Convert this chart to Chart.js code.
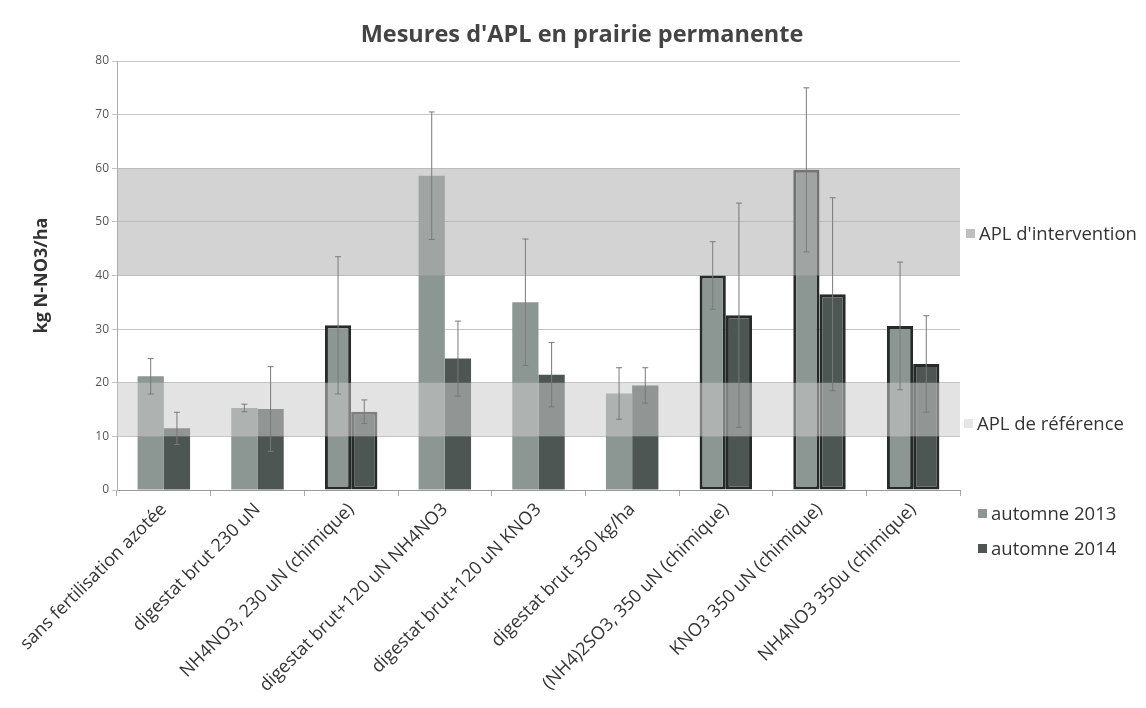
<!DOCTYPE html>
<html lang="fr">
    <head>
        <meta charset="UTF-8" />
        <title>Mesures d'APL en prairie permanente</title>
        <script src="https://cdn.jsdelivr.net/npm/chart.js@4.4.1/dist/chart.umd.min.js"></script>
        <style>
            body { margin: 0; background: #fff; font-family: "Open Sans", sans-serif; }
            #wrap { position: relative; width: 1146px; height: 708px; }
            #title { position: absolute; left: 582px; top: 17px; transform: translateX(-50%); font-size: 23.5px; font-weight: bold; line-height: 32px; color: #444; white-space: nowrap; }
            .leg { position: absolute; font-size: 18.5px; line-height: 22px; color: #333; white-space: nowrap; }
            .leg span { display: inline-block; width: 9px; height: 9px; margin-right: 4px; vertical-align: 2px; }
        </style>
    </head>
    <body>
        <div id="wrap">
            <canvas id="chart" width="1146" height="708"></canvas>
            <div id="title">Mesures d'APL en prairie permanente</div>
            <div class="leg" style="left: 966px; top: 222px"><span style="background: #bfbfbf"></span>APL d'intervention</div>
            <div class="leg" style="left: 964px; top: 412px"><span style="background: #e6e6e6"></span>APL de référence</div>
            <div class="leg" style="left: 978px; top: 502px"><span style="background: #8c9793"></span>automne 2013</div>
            <div class="leg" style="left: 978px; top: 537px"><span style="background: #4d5653"></span>automne 2014</div>
        </div>
        <script>
            const categories = [
                "sans fertilisation azotée",
                "digestat brut 230 uN",
                "NH4NO3, 230 uN (chimique)",
                "digestat brut+120 uN NH4NO3",
                "digestat brut+120 uN KNO3",
                "digestat brut 350 kg/ha",
                "(NH4)2SO3, 350 uN (chimique)",
                "KNO3 350 uN (chimique)",
                "NH4NO3 350u (chimique)",
            ];
            const apl2013 = [21.2, 15.3, 30.7, 58.6, 35.0, 18.0, 40.0, 59.7, 30.6];
            const apl2014 = [11.5, 15.1, 14.6, 24.5, 21.5, 19.5, 32.6, 36.5, 23.5];
            const err2013 = [3.3, 0.7, 12.8, 11.9, 11.8, 4.8, 6.3, 15.3, 11.9];
            const err2014 = [3.0, 7.9, 2.2, 7.0, 6.0, 3.3, 20.9, 18.0, 9.0];
            const bandReference = [10, 20];
            const bandIntervention = [40, 60];
            const yTicks = [0, 10, 20, 30, 40, 50, 60, 70, 80];

            const errors = [err2013, err2014];
            const bands = [
                { range: bandIntervention, color: "rgba(176, 176, 176, 0.56)" },
                { range: bandReference, color: "rgba(203, 203, 203, 0.54)" },
            ];

            // APL bands (semi transparent, over the bars) then error bars on top
            const overlays = {
                id: "overlays",
                afterDatasetsDraw(chart) {
                    const ctx = chart.ctx;
                    const area = chart.chartArea;
                    const y = chart.scales.y;
                    ctx.save();
                    for (const b of bands) {
                        const top = y.getPixelForValue(b.range[1]);
                        const bottom = y.getPixelForValue(b.range[0]);
                        ctx.fillStyle = b.color;
                        ctx.fillRect(area.left, top, area.right - area.left, bottom - top);
                    }
                    ctx.strokeStyle = "#7a7a7a";
                    ctx.lineWidth = 1;
                    errors.forEach((err, d) => {
                        const meta = chart.getDatasetMeta(d);
                        meta.data.forEach((bar, i) => {
                            const v = chart.data.datasets[d].data[i];
                            const top = y.getPixelForValue(v + err[i]);
                            const bottom = y.getPixelForValue(v - err[i]);
                            ctx.beginPath();
                            ctx.moveTo(bar.x, top);
                            ctx.lineTo(bar.x, bottom);
                            ctx.moveTo(bar.x - 3, top);
                            ctx.lineTo(bar.x + 3, top);
                            ctx.moveTo(bar.x - 3, bottom);
                            ctx.lineTo(bar.x + 3, bottom);
                            ctx.stroke();
                        });
                    });
                    ctx.restore();
                },
            };

            // the "chimique" treatments are outlined
            const chimique = (ctx) => (categories[ctx.dataIndex].includes("chimique") ? 3 : 0);

            new Chart("chart", {
                type: "bar",
                data: {
                    labels: categories,
                    datasets: [
                        {
                            label: "automne 2013",
                            data: apl2013,
                            backgroundColor: "#8c9793",
                            borderColor: "#262b2a",
                            borderWidth: chimique,
                            borderSkipped: false,
                        },
                        {
                            label: "automne 2014",
                            data: apl2014,
                            backgroundColor: "#4d5653",
                            borderColor: "#262b2a",
                            borderWidth: chimique,
                            borderSkipped: false,
                        },
                    ],
                },
                options: {
                    responsive: false,
                    animation: false,
                    layout: { padding: { left: 0, right: 186, top: 61, bottom: 0 } },
                    datasets: {
                        bar: { categoryPercentage: 0.56, barPercentage: 1 },
                    },
                    plugins: {
                        legend: { display: false },
                        tooltip: { enabled: false },
                    },
                    scales: {
                        x: {
                            grid: { display: true, drawOnChartArea: false, offset: true, tickLength: 6, color: "#aaa" },
                            border: { color: "#999" },
                            ticks: {
                                autoSkip: false,
                                maxRotation: 45,
                                minRotation: 45,
                                color: "#333",
                                font: { family: "Open Sans", size: 18 },
                            },
                            afterFit(scale) {
                                scale.height = 218;
                            },
                        },
                        y: {
                            min: 0,
                            max: 80,
                            afterBuildTicks(scale) {
                                scale.ticks = yTicks.map((v) => ({ value: v }));
                            },
                            grid: { color: "#c4c4c4", tickLength: 5 },
                            border: { color: "#aaa" },
                            ticks: { color: "#555", font: { family: "Open Sans", size: 12 } },
                            title: {
                                display: true,
                                text: "kg N-NO3/ha",
                                color: "#333",
                                font: { family: "Open Sans", size: 18, weight: "bold" },
                                padding: { top: 31, bottom: 0 },
                            },
                            afterFit(scale) {
                                scale.width = 117;
                            },
                        },
                    },
                },
                plugins: [overlays],
            });
        </script>
    </body>
</html>
